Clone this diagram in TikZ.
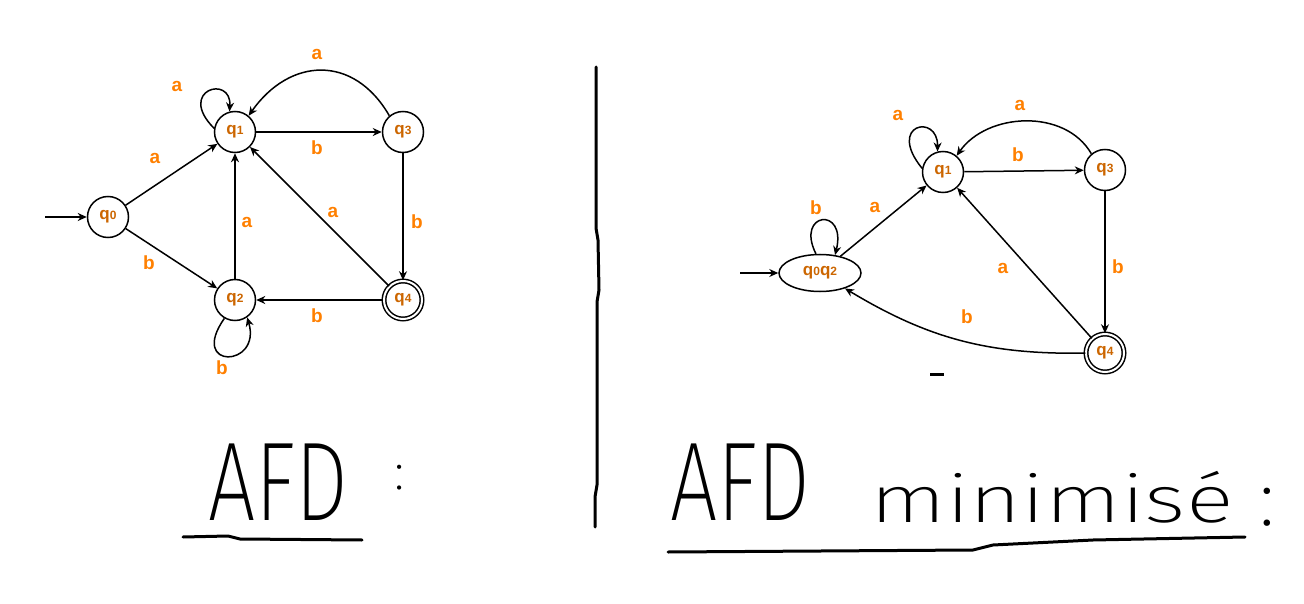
\documentclass[tikz,border=0pt]{standalone}
\usepackage{fontspec}
\usepackage{graphicx}
\setmainfont{Liberation Sans}
\newfontfamily\hand{Fira Sans}[UprightFont=* ExtraLight]
\usetikzlibrary{arrows.meta,shapes.geometric}
\definecolor{lbl}{HTML}{FF8000}
\definecolor{stt}{HTML}{CC6600}
\newcommand\qsub[1]{{\fontsize{12}{12}\selectfont#1}}
\tikzset{
  state/.style={circle, draw, line width=1.5pt, minimum size=41pt, inner sep=0pt,
    text=stt, font=\bfseries\fontsize{17}{17}\selectfont},
  accept/.style={state, minimum size=38pt, double, double distance=2pt},
  ellstate/.style={ellipse, draw, line width=1.5pt, minimum width=82pt, minimum height=37pt,
    inner sep=0pt, text=stt, font=\bfseries\fontsize{17}{17}\selectfont},
  tr/.style={line width=1.5pt, -{Stealth[length=9pt,width=8pt]}},
  lab/.style={text=lbl, font=\bfseries\fontsize{19}{19}\selectfont, inner sep=0pt},
  hw/.style={inner sep=0pt, font=\hand\fontsize{112}{112}\selectfont},
  pen/.style={line width=3pt, line cap=round, line join=round}
}
\begin{document}
\begin{tikzpicture}[x=1pt,y=1pt]
\fill[white] (0,0) rectangle (1304,-604);
\useasboundingbox (0,0) rectangle (1304,-604);

% ---------- left automaton ----------
\node[state]  (q0) at (108,-217) {q\qsub{0}};
\node[state]  (q1) at (235,-132) {q\qsub{1}};
\node[state]  (q3) at (403,-132) {q\qsub{3}};
\node[state]  (q2) at (235,-300) {q\qsub{2}};
\node[accept] (q4) at (403,-300) {q\qsub{4}};
\coordinate (i0) at (45,-217);

\draw[tr] (i0) -- (q0);
\draw[tr] (q0) -- (q1);
\draw[tr] (q0) -- (q2);
\draw[tr] (q2) -- (q1);
\draw[tr] (q1) -- (q3);
\draw[tr] (q3) -- (q4);
\draw[tr] (q4) -- (q2);
\draw[tr] (q4) -- (q1);
\draw[tr] (q3.130) to[out=120,in=55,looseness=1.3] (q1.50);
\draw[tr] (q1.170) .. controls (176,-90) and (232,-74) .. (q1.105);
\draw[tr] (q2.240) .. controls (188,-370) and (262,-368) .. (q2.305);

\node[lab] (la1) at (177,-86) {a};
\node[lab] (la2) at (317,-54) {a};
\node[lab] (lb1) at (317,-148) {b};
\node[lab] (la3) at (155,-158) {a};
\node[lab] (lb2) at (149,-263) {b};
\node[lab] (la4) at (247,-222) {a};
\node[lab] (la5) at (333,-212) {a};
\node[lab] (lb3) at (417,-222) {b};
\node[lab] (lb4) at (317,-316) {b};
\node[lab] (lb5) at (222,-368) {b};

% ---------- divider ----------
\draw[pen] (596,-67) -- (596,-228) -- (598,-240) -- (599,-290) -- (597,-302)
  -- (597,-485) -- (595,-497) -- (595,-527);

% ---------- right automaton ----------
\node[ellstate] (e)  at (820,-273) {q\qsub{0}q\qsub{2}};
\node[state]  (r1) at (943,-172) {q\qsub{1}};
\node[state]  (r3) at (1105,-170) {q\qsub{3}};
\node[accept] (r4) at (1105,-353) {q\qsub{4}};
\coordinate (i1) at (740,-273);

\draw[tr] (i1) -- (e);
\draw[tr] (e) -- (r1);
\draw[tr] (r1) -- (r3);
\draw[tr] (r3) -- (r4);
\draw[tr] (r4) -- (r1);
\draw[tr] (r4) to[bend left=16] (e);
\draw[tr] (r3.130) to[out=120,in=55] (r1.50);
\draw[tr] (r1.170) .. controls (886,-124) and (938,-113) .. (r1.105);
\draw[tr] (e.102) .. controls (795,-212) and (847,-206) .. (e.50);

\node[lab] (ra1) at (898,-115) {a};
\node[lab] (ra2) at (1020,-105) {a};
\node[lab] (rb1) at (1018,-155) {b};
\node[lab] (ra3) at (875,-207) {a};
\node[lab] (rb2) at (816,-208) {b};
\node[lab] (ra4) at (1003,-268) {a};
\node[lab] (rb3) at (1118,-267) {b};
\node[lab] (rb4) at (967,-317) {b};

\draw[line width=3pt] (930,-374) -- (944,-374);

% ---------- handwritten titles ----------
\node[hw, anchor=base west] (t1) at (208,-520) {\scalebox{0.75}[1]{AFD}};
\node[hw, font=\hand\fontsize{52}{52}\selectfont] (c1) at (400,-478) {:};
\draw[pen] (183,-537) -- (228,-536) -- (240,-539) -- (362,-540);

\node[hw, anchor=base west] (t2) at (670,-520) {\scalebox{0.75}[1]{AFD}};
\node[hw, anchor=base west, font=\hand\fontsize{66}{66}\selectfont] (t3) at (870,-522)
  {\scalebox{1.35}[1]{minimisé}};
\node[hw, font=\hand\fontsize{80}{80}\selectfont] (c2) at (1267,-507) {:};
\draw[pen] (668,-552) -- (973,-550) -- (993,-545) -- (1093,-540) -- (1245,-537);
\end{tikzpicture}
\end{document}
